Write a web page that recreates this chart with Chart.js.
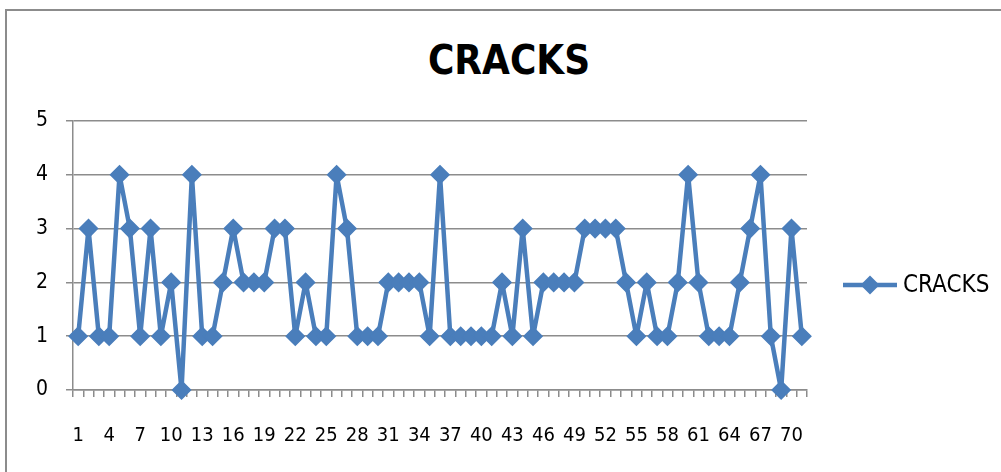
<!DOCTYPE html>
<html>
<head>
<meta charset="utf-8">
<script src="https://cdn.jsdelivr.net/npm/chart.js@4.4.1/dist/chart.umd.min.js"></script>
<style>
  html, body { margin: 0; padding: 0; background: #fff; }
  #wrap { position: relative; width: 1001px; height: 472px; overflow: hidden; }
  #frame { position: absolute; left: 5px; top: 9px; width: 1200px; height: 600px;
           border-left: 2px solid #8c8c8c; border-top: 2px solid #8c8c8c; box-sizing: border-box; }
  #title { position: absolute; left: 0; width: 1018px; top: 36px; text-align: center;
           font: bold 40px 'Liberation Sans Narrow', 'DejaVu Sans Condensed', sans-serif; color: #000; line-height: 48px; }
  canvas { position: absolute; left: 0; top: 0; }
</style>
</head>
<body>
<div id="wrap">
  <div id="frame"></div>
  <div id="title">CRACKS</div>
  <canvas id="c" width="1001" height="472"></canvas>
</div>
<script>
// Observation numbers 1..71
const categories = [];
for (let i = 1; i <= 71; i++) categories.push(String(i));

// Crack counts per observation
const cracks = [
  1, 3, 1, 1, 4, 3, 1, 3, 1, 2,
  0, 4, 1, 1, 2, 3, 2, 2, 2, 3,
  3, 1, 2, 1, 1, 4, 3, 1, 1, 1,
  2, 2, 2, 2, 1, 4, 1, 1, 1, 1,
  1, 2, 1, 3, 1, 2, 2, 2, 2, 3,
  3, 3, 3, 2, 1, 2, 1, 1, 2, 4,
  2, 1, 1, 1, 2, 3, 4, 1, 0, 3,
  1
];

const seriesName = 'CRACKS';
const yTicks = [0, 1, 2, 3, 4, 5];

const FONT = "'Liberation Sans Narrow', 'DejaVu Sans Condensed', sans-serif";
const BLUE = '#4a7ebb';
const GRID = '#8c8c8c';

// Legend drawn at the right side: line sample, diamond, series name
const sideLegend = {
  id: 'sideLegend',
  afterDraw(chart) {
    const ctx = chart.ctx;
    const ds = chart.data.datasets[0];
    const y = 285;
    ctx.save();
    ctx.strokeStyle = ds.borderColor;
    ctx.lineWidth = 4.5;
    ctx.beginPath();
    ctx.moveTo(843, y);
    ctx.lineTo(897, y);
    ctx.stroke();
    ctx.fillStyle = ds.borderColor;
    ctx.beginPath();
    ctx.moveTo(870, y - 9.5);
    ctx.lineTo(879.5, y);
    ctx.lineTo(870, y + 9.5);
    ctx.lineTo(860.5, y);
    ctx.closePath();
    ctx.fill();
    ctx.fillStyle = '#000';
    ctx.font = '24px ' + FONT;
    ctx.textBaseline = 'middle';
    ctx.textAlign = 'left';
    ctx.fillText(ds.label, 903, y + 1);
    ctx.restore();
  }
};

new Chart(document.getElementById('c'), {
  type: 'line',
  data: {
    labels: categories,
    datasets: [{
      label: seriesName,
      data: cracks,
      borderColor: BLUE,
      backgroundColor: BLUE,
      borderWidth: 4.5,
      borderJoinStyle: 'round',
      borderCapStyle: 'round',
      tension: 0,
      pointStyle: 'rectRot',
      pointRadius: 9,
      pointBorderWidth: 1.5,
      pointBackgroundColor: BLUE,
      pointBorderColor: BLUE,
      clip: false
    }]
  },
  options: {
    responsive: false,
    animation: false,
    events: [],
    layout: { padding: { left: 0, right: 194, top: 121, bottom: 0 } },
    plugins: {
      legend: { display: false },
      title: { display: false },
      tooltip: { enabled: false }
    },
    scales: {
      x: {
        type: 'category',
        offset: true,
        afterFit(scale) { scale.height = 82; },
        grid: {
          offset: true,
          drawOnChartArea: false,
          drawTicks: true,
          tickLength: 7,
          color: GRID,
          lineWidth: 1.5
        },
        border: { display: true, color: GRID, width: 1.5 },
        ticks: {
          autoSkip: false,
          maxRotation: 0,
          minRotation: 0,
          padding: 27,
          color: '#000',
          font: { family: FONT, size: 20 },
          callback(value, index) { return index % 3 === 0 ? categories[index] : ''; }
        }
      },
      y: {
        min: yTicks[0],
        max: yTicks[yTicks.length - 1],
        afterFit(scale) { scale.width = 73; },
        afterBuildTicks(scale) { scale.ticks = yTicks.map(v => ({ value: v })); },
        grid: {
          color: GRID,
          lineWidth: 1.5,
          tickLength: 7,
          drawTicks: true
        },
        border: { display: true, color: GRID, width: 1.5 },
        ticks: {
          padding: 18,
          color: '#000',
          font: { family: FONT, size: 21 }
        }
      }
    }
  },
  plugins: [sideLegend]
});
</script>
</body>
</html>
